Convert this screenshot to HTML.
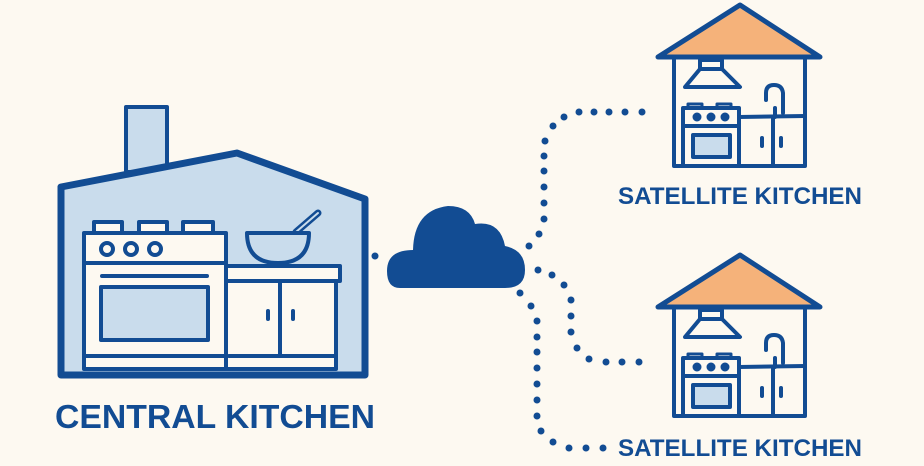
<!DOCTYPE html>
<html><head><style>
html,body{margin:0;padding:0;background:#fdf9f1;}
svg{display:block}
text{font-family:"Liberation Sans",sans-serif;font-weight:bold;fill:#124c93}
</style></head><body>
<svg width="924" height="466" viewBox="0 0 924 466">
<rect width="924" height="466" fill="#fdf9f1"/>
<g stroke="#124c93" stroke-linejoin="round" stroke-linecap="round">
<rect x="126" y="107" width="41" height="65" fill="#c9dcec" stroke-width="4"/>
<polygon points="61,187 237,153 365,199 365,375 61,375" fill="#c9dcec" stroke-width="7"/>
<rect x="94" y="222" width="28" height="12" fill="#fdf9f1" stroke-width="4"/>
<rect x="139" y="222" width="28" height="12" fill="#fdf9f1" stroke-width="4"/>
<rect x="183" y="222" width="30" height="12" fill="#fdf9f1" stroke-width="4"/>
<rect x="84" y="233" width="142" height="136" fill="#fdf9f1" stroke-width="4"/>
<line x1="84" y1="263" x2="226" y2="263" stroke-width="4"/>
<circle cx="107" cy="249" r="6" fill="#fdf9f1" stroke-width="4"/>
<circle cx="131" cy="249" r="6" fill="#fdf9f1" stroke-width="4"/>
<circle cx="155" cy="249" r="6" fill="#fdf9f1" stroke-width="4"/>
<line x1="102" y1="276" x2="207" y2="276" stroke-width="4"/>
<rect x="101" y="287" width="107" height="53" fill="#c9dcec" stroke-width="4"/>
<line x1="84" y1="356" x2="226" y2="356" stroke-width="4"/>
<rect x="226" y="266" width="114" height="15" fill="#fdf9f1" stroke-width="4"/>
<rect x="226" y="281" width="110" height="88" fill="#fdf9f1" stroke-width="4"/>
<line x1="229" y1="356" x2="334" y2="356" stroke-width="4"/>
<line x1="280" y1="281" x2="280" y2="356" stroke-width="4"/>
<line x1="268" y1="311" x2="268" y2="319" stroke-width="4"/>
<line x1="293" y1="311" x2="293" y2="319" stroke-width="4"/>
<line x1="296" y1="232" x2="318" y2="213" stroke-width="7"/>
<line x1="296" y1="232" x2="318" y2="213" stroke="#c9dcec" stroke-width="2"/>
<path d="M247,233 L309,233 Q309,263 278,263 Q247,263 247,233 Z" fill="#c9dcec" stroke-width="4"/>
</g>
<path d="M400,288 Q387,288 387,271 Q387,250 413,250 Q414,210 448,206 Q470,206 475,224 Q500,220 505,246 Q525,250 525,270 Q525,288 505,288 Z" fill="#124c93"/>
<g fill="#124c93">
<circle cx="375" cy="256" r="3.5"/>
<circle cx="529" cy="246" r="3.5"/><circle cx="539" cy="234" r="3.5"/><circle cx="544" cy="219" r="3.5"/><circle cx="544" cy="203" r="3.5"/><circle cx="544" cy="187" r="3.5"/><circle cx="544" cy="171" r="3.5"/><circle cx="544" cy="156" r="3.5"/><circle cx="545" cy="141" r="3.5"/><circle cx="553" cy="126" r="3.5"/><circle cx="564" cy="117" r="3.5"/><circle cx="579" cy="112" r="3.5"/><circle cx="594" cy="112" r="3.5"/><circle cx="609" cy="112" r="3.5"/><circle cx="625" cy="112" r="3.5"/><circle cx="642" cy="112" r="3.5"/>
<circle cx="538" cy="270" r="3.5"/><circle cx="552" cy="275" r="3.5"/><circle cx="564" cy="285" r="3.5"/><circle cx="571" cy="300" r="3.5"/><circle cx="571" cy="316" r="3.5"/><circle cx="571" cy="332" r="3.5"/><circle cx="577" cy="348" r="3.5"/><circle cx="589" cy="359" r="3.5"/><circle cx="606" cy="362" r="3.5"/><circle cx="622" cy="362" r="3.5"/><circle cx="639" cy="362" r="3.5"/>
<circle cx="520" cy="293" r="3.5"/><circle cx="531" cy="306" r="3.5"/><circle cx="537" cy="321" r="3.5"/><circle cx="537" cy="337" r="3.5"/><circle cx="537" cy="352" r="3.5"/><circle cx="537" cy="368" r="3.5"/><circle cx="537" cy="384" r="3.5"/><circle cx="537" cy="400" r="3.5"/><circle cx="537" cy="416" r="3.5"/><circle cx="541" cy="431" r="3.5"/><circle cx="553" cy="442" r="3.5"/><circle cx="569" cy="448" r="3.5"/><circle cx="586" cy="448" r="3.5"/><circle cx="603" cy="448" r="3.5"/>
</g>
<defs>
<g id="sat" stroke="#124c93" stroke-linejoin="round" stroke-linecap="round" stroke-width="4">
<rect x="674" y="57" width="131" height="109" fill="#fdf9f1"/>
<polygon points="740,5 658,57 820,57" fill="#f5b27a" stroke-width="5"/>
<rect x="700" y="60" width="22" height="9" fill="#fdf9f1"/>
<polygon points="700,69 722,69 740,87 685,87" fill="#fdf9f1"/>
<rect x="688" y="104" width="14" height="5" fill="#fdf9f1" stroke-width="3"/>
<rect x="717" y="104" width="14" height="5" fill="#fdf9f1" stroke-width="3"/>
<rect x="683" y="108" width="56" height="58" fill="#fdf9f1"/>
<circle cx="697" cy="117" r="2.5" fill="#124c93"/><circle cx="711" cy="117" r="2.5" fill="#124c93"/><circle cx="725" cy="117" r="2.5" fill="#124c93"/>
<line x1="683" y1="126" x2="739" y2="126"/>
<rect x="693" y="135" width="37" height="22" fill="#c9dcec"/>
<line x1="739" y1="117" x2="805" y2="116"/>
<line x1="773" y1="117" x2="773" y2="166"/>
<line x1="762" y1="138" x2="762" y2="146"/><line x1="781" y1="138" x2="781" y2="146"/>
<path d="M766,100 L766,93 Q766,85 774,85 Q782,85 783,93 L783,113" fill="none"/>
<line x1="775" y1="108" x2="775" y2="117"/>
</g>
</defs>
<use href="#sat"/>
<use href="#sat" y="250"/>
<text x="740" y="204" font-size="24" text-anchor="middle" textLength="244" lengthAdjust="spacingAndGlyphs">SATELLITE KITCHEN</text>
<text x="740" y="456" font-size="24" text-anchor="middle" textLength="244" lengthAdjust="spacingAndGlyphs">SATELLITE KITCHEN</text>
<text x="215" y="428" font-size="33" text-anchor="middle" textLength="320" lengthAdjust="spacingAndGlyphs">CENTRAL KITCHEN</text>
</svg>
</body></html>
